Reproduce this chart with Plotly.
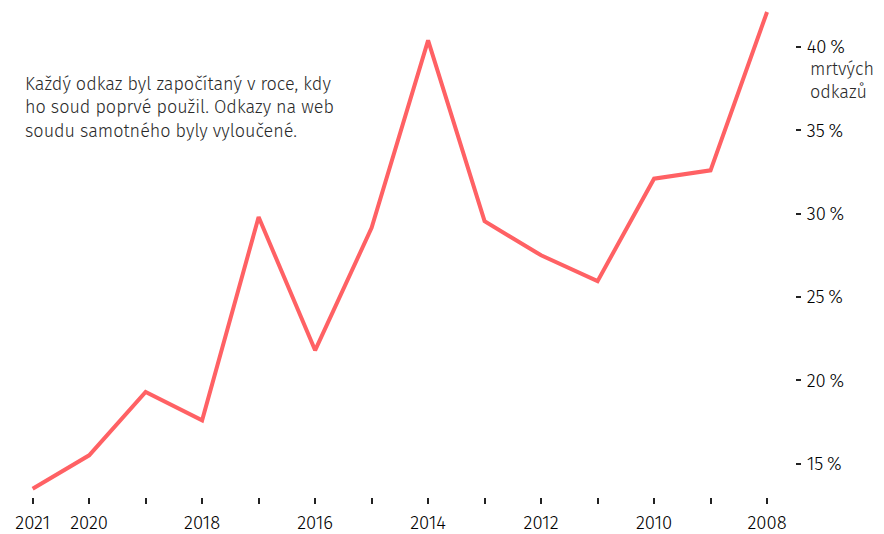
import plotly.graph_objects as go

years = [2021, 2020, 2019, 2018, 2017, 2016, 2015, 2014, 2013, 2012, 2011, 2010, 2009, 2008]
dead_pct = [13.5, 15.5, 19.3, 17.6, 29.8, 21.8, 29.15, 40.4, 29.55, 27.5, 25.95, 32.1, 32.6, 42.1]

x_tick_vals = list(range(2008, 2022))
x_tick_text = [str(y) if (y % 2 == 0 or y == 2021) else "" for y in x_tick_vals]
y_tick_vals = [15, 20, 25, 30, 35, 40]
y_tick_text = [f"{v}\u2009%" for v in y_tick_vals]

note_text = ("Každý odkaz byl započítaný v roce, kdy<br>"
             "ho soud poprvé použil. Odkazy na web<br>"
             "soudu samotného byly vyloučené.")
unit_text = "mrtvých<br>odkazů"

FONT = "Fira Sans, Noto Sans, sans-serif"

fig = go.Figure()
fig.add_trace(go.Scatter(
    x=years, y=dead_pct, mode="lines",
    line=dict(color="#ff6164", width=4),
    hoverinfo="skip",
))

W, H = 884, 534
ml, mr, mt = 19.4, 97, 0
y_top = 42.34
y_bot = 13
px_per_pct = 16.68
plot_bottom_px = 456 + (15 - y_bot) * px_per_pct
mb = H - plot_bottom_px
paper_w = W - ml - mr
paper_h = H - mt - mb
x_end_px = 764.7
dom_end = (x_end_px - ml) / paper_w

fig.update_layout(
    width=W, height=H,
    margin=dict(l=ml, r=mr, t=mt, b=mb, pad=0),
    paper_bgcolor="white", plot_bgcolor="white",
    showlegend=False,
    font=dict(family=FONT, size=16, color="#111"),
    xaxis=dict(
        domain=[0, dom_end],
        range=[2021.1, 2007.9],
        tickmode="array", tickvals=x_tick_vals, ticktext=x_tick_text,
        ticks="outside", ticklen=6, tickwidth=2, tickcolor="#222",
        ticklabelstandoff=3,
        showgrid=False, zeroline=False, showline=False,
        tickfont=dict(family=FONT, size=18.5, color="#000", weight=300),
    ),
    yaxis=dict(
        range=[y_bot, y_top],
        side="right", anchor="free", position=1,
        tickmode="array", tickvals=y_tick_vals, ticktext=y_tick_text,
        ticks="outside", ticklen=5, tickwidth=2, tickcolor="#222",
        ticklabelstandoff=2,
        showgrid=False, zeroline=False, showline=False,
        tickfont=dict(family=FONT, size=18.5, color="#000", weight=300),
    ),
)

fig.add_annotation(
    text=note_text, xref="paper", yref="paper",
    x=(15 - ml) / paper_w, y=1 - (63 - mt) / paper_h,
    xanchor="left", yanchor="top", align="left", showarrow=False,
    font=dict(family=FONT, size=18, color="#2a2a2a", weight=300),
)
fig.add_annotation(
    text=unit_text, xref="paper", yref="paper",
    x=(800 - ml) / paper_w, y=1 - (48 - mt) / paper_h,
    xanchor="left", yanchor="top", align="left", showarrow=False,
    font=dict(family=FONT, size=18, color="#2a2a2a", weight=300),
)

fig.write_html("out.html")
